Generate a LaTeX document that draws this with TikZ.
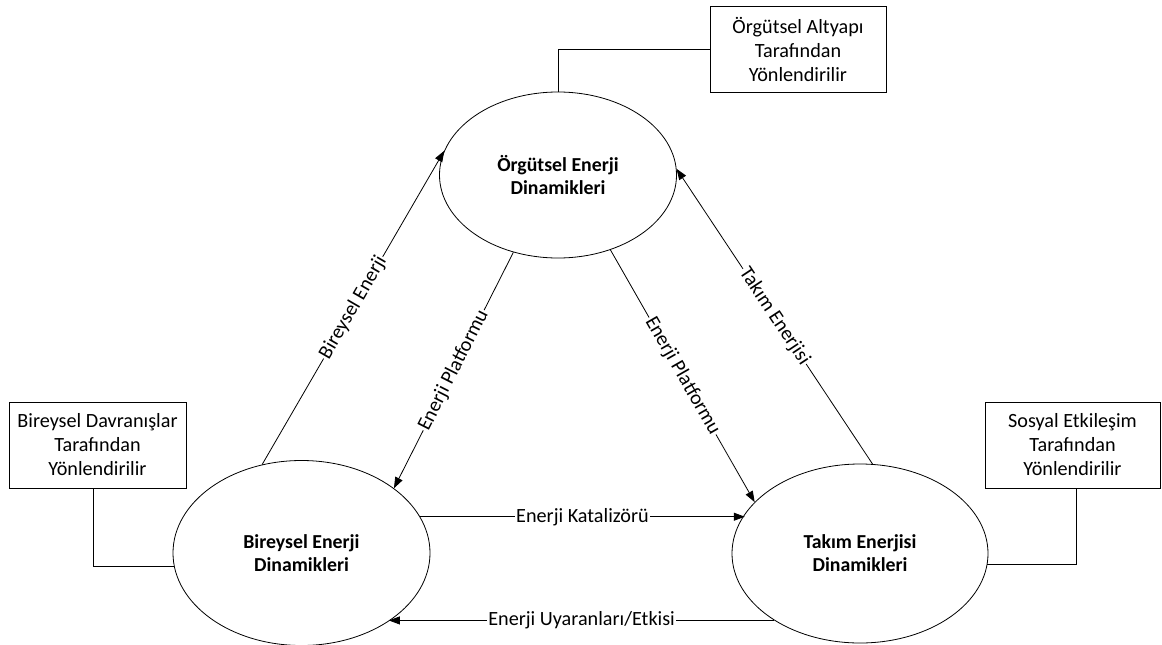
\documentclass[tikz,border=0pt]{standalone}
\usepackage{fontspec}
\setmainfont{Carlito}
\usetikzlibrary{shapes.geometric,arrows.meta}
\begin{document}
\begin{tikzpicture}[x=1pt,y=-1pt,
  txt/.style={font=\fontsize{20.2}{24}\selectfont},
  ell/.style={draw, ellipse, line width=0.8pt, font=\fontsize{19.8}{23}\selectfont\bfseries, align=center, inner sep=0pt},
  box/.style={draw, rectangle, line width=0.8pt, txt, align=center, inner sep=0pt},
  arr/.style={line width=0.8pt, -{Triangle[length=11pt,width=8pt]}},
  con/.style={line width=0.8pt},
  lbl/.style={sloped, midway, fill=white, inner sep=1pt, txt}
]
\useasboundingbox (0,0) rectangle (1162,645);
\fill[white] (0,0) rectangle (1162,645);

% ellipses
\node[ell, minimum width=237pt, minimum height=166pt] (O) at (558,175) {Örgütsel Enerji\\Dinamikleri};
\node[ell, minimum width=257pt, minimum height=185pt] (B) at (301.5,553) {Bireysel Enerji\\Dinamikleri};
\node[ell, minimum width=256pt, minimum height=179pt] (T) at (860,553.5) {Takım Enerjisi\\Dinamikleri};

% boxes
\node[box, minimum width=176pt, minimum height=86pt] (R1) at (798,49) {Örgütsel Altyapı\\Tarafından\\Yönlendirilir};
\node[box, minimum width=177pt, minimum height=86pt] (L) at (97.5,445) {Bireysel Davranışlar\\Tarafından\\Yönlendirilir};
\node[box, minimum width=175pt, minimum height=86pt] (R) at (1072.5,445) {Sosyal Etkileşim\\Tarafından\\Yönlendirilir};

% box connectors
\draw[con] (O.north) |- (R1.west);
\draw[con] ([xshift=-4.5pt]L.south) |- (B.186.7);
\draw[con] ([xshift=3.5pt]R.south) |- (T.-5.2);

% arrows
\draw[arr] (B.114.2) -- node[lbl] {Bireysel Enerji} (O.168.9);
\draw[arr] (O.240.2) -- node[lbl] {Enerji Platformu} (B.35.2);
\draw[arr] (O.-55.3) -- node[lbl] {Enerji Platformu} (T.154.7);
\draw[arr] (T.82.3) -- node[lbl] {Takım Enerjisi} (O.3.4);
\draw[arr] (B.17.96) -- node[lbl] {Enerji Katalizörü} (B.17.96 -| T.161.57);
\draw[arr] (T.218.8) -- node[lbl] {Enerji Uyaranları/Etkisi} (T.218.8 -| B.322);
\end{tikzpicture}
\end{document}
